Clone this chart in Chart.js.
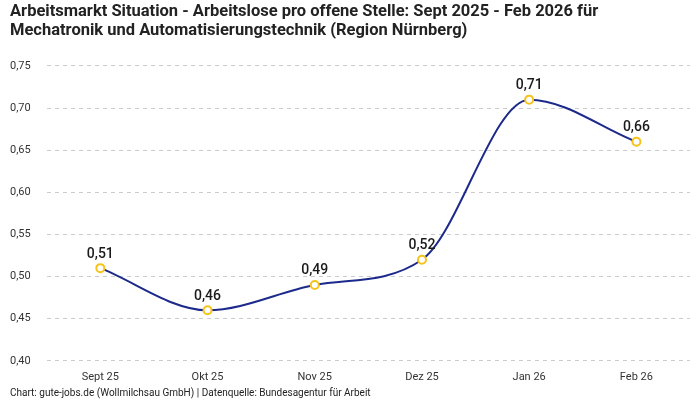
<!DOCTYPE html>
<html>
<head>
<meta charset="utf-8">
<script src="https://cdn.jsdelivr.net/npm/chart.js@4"></script>
<style>
html,body{margin:0;padding:0;background:#fff;}
#wrap{width:700px;height:400px;}
</style>
</head>
<body>
<div id="wrap"><canvas id="c"></canvas></div>
<script>
const categories = ['Sept 25', 'Okt 25', 'Nov 25', 'Dez 25', 'Jan 26', 'Feb 26'];
const values = [0.51, 0.46, 0.49, 0.52, 0.71, 0.66];
const titleLines = ['Arbeitsmarkt Situation - Arbeitslose pro offene Stelle: Sept 2025 - Feb 2026 für', 'Mechatronik und Automatisierungstechnik (Region Nürnberg)'];
const footer = 'Chart: gute-jobs.de (Wollmilchsau GmbH) | Datenquelle: Bundesagentur für Arbeit';

const FONT = 'Roboto, "Noto Sans", sans-serif';
const fmt = v => v.toFixed(2).replace('.', ',');

const labelPlugin = {
  id: 'valueLabels',
  afterDatasetsDraw(chart) {
    const ctx = chart.ctx;
    const meta = chart.getDatasetMeta(0);
    ctx.save();
    ctx.font = '500 14px ' + FONT;
    ctx.fillStyle = '#1a1a1a';
    ctx.textAlign = 'center';
    ctx.textBaseline = 'bottom';
    meta.data.forEach((pt, i) => {
      ctx.fillText(fmt(values[i]), pt.x, pt.y - 7);
    });
    ctx.restore();
  }
};

new Chart(document.getElementById('c'), {
  type: 'line',
  data: {
    labels: categories,
    datasets: [{
      data: values,
      borderColor: '#1c2a8c',
      borderWidth: 2,
      cubicInterpolationMode: 'monotone',
      pointRadius: 4,
      pointBorderWidth: 2,
      pointBackgroundColor: '#ffffff',
      pointBorderColor: '#f7c21a',
      fill: false
    }]
  },
  options: {
    responsive: true,
    maintainAspectRatio: false,
    animation: false,
    layout: { padding: { left: 10, right: 10, top: 0, bottom: 1 } },
    plugins: {
      legend: { display: false },
      tooltip: { enabled: false },
      title: {
        display: true,
        text: titleLines,
        align: 'start',
        color: '#222',
        font: { family: FONT, size: 16.5, weight: 'bold', lineHeight: 1.15 },
        padding: { top: 2, bottom: 26 }
      },
      subtitle: {
        display: true,
        position: 'bottom',
        text: footer,
        align: 'start',
        color: '#222',
        font: { family: FONT, size: 10 },
        padding: { top: 1, bottom: 0 }
      }
    },
    scales: {
      x: {
        offset: true,
        grid: { display: false },
        border: { display: false },
        ticks: { color: '#333', font: { family: FONT, size: 11 }, padding: 2 }
      },
      y: {
        min: 0.40,
        max: 0.75,
        grid: { color: '#cccccc', drawTicks: false },
        border: { display: false, dash: [4, 4] },
        ticks: {
          stepSize: 0.05,
          color: '#333',
          font: { family: FONT, size: 11 },
          padding: 8,
          crossAlign: 'far',
          callback: v => fmt(v)
        }
      }
    }
  },
  plugins: [labelPlugin]
});
</script>
</body>
</html>
